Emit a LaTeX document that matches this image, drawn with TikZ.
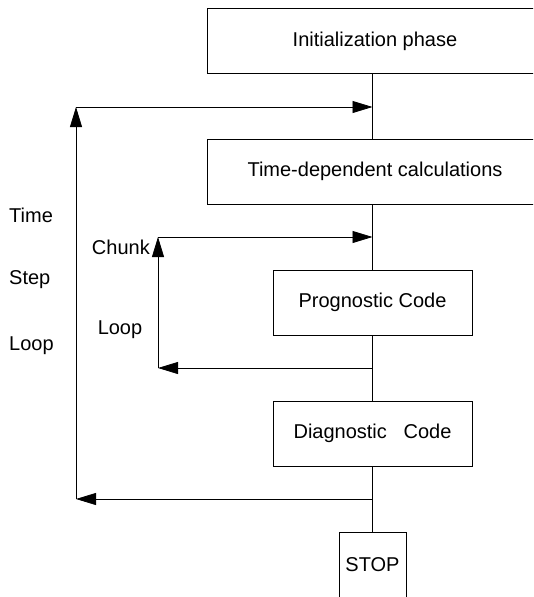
\documentclass[tikz,border=0pt]{standalone}
\usepackage{fontspec}
\setmainfont{Liberation Sans}
\usetikzlibrary{arrows.meta}
\tikzset{
  phase/.style={draw, line width=0.8pt, minimum height=65pt, inner sep=0pt},
  flow/.style={line width=0.8pt},
  loopto/.style={line width=0.8pt, -{Triangle[length=20pt,width=12pt]}},
  lbl/.style={inner sep=0pt}
}
\begin{document}
\begin{tikzpicture}[x=1pt,y=-1pt,font=\fontsize{20}{24}\selectfont]
      \clip (0,0) rectangle (533,597);
      \coordinate (spine) at (372.5,0);
      \node[phase, minimum width=336pt] (init) at (375,41) {Initialization phase};
      \node[phase, minimum width=336pt] (tdc) at (375,171.5) {Time-dependent calculations};
      \node[phase, minimum width=199pt] (prog) at (372.5,302.5) {Prognostic Code};
      \node[phase, minimum width=199pt] (diag) at (372.5,433.5) {Diagnostic~~~Code};
      \node[phase, minimum width=67pt, minimum height=66pt] (stop) at (372.5,565) {STOP};
      % main line
      \draw [flow] (init.south -| spine) -- (tdc.north -| spine);
      \draw [flow] (tdc.south -| spine) -- (prog);
      \draw [flow] (prog) -- (diag);
      \draw [flow] (diag) -- (stop);
      % time step loop
      \coordinate (tin) at (372.5,107);
      \coordinate (tl) at (76,107);
      \coordinate (tb) at (76,499);
      \coordinate (tout) at (372.5,499);
      \draw [loopto] (tout) -- (tb);
      \draw [loopto] (tb) -- (tl);
      \draw [loopto] (tl) -- (tin);
      % chunk loop
      \coordinate (cin) at (372.5,237);
      \coordinate (cl) at (158,237);
      \coordinate (cb) at (158,368);
      \coordinate (cout) at (372.5,368);
      \draw [loopto] (cout) -- (cb);
      \draw [loopto] (cb) -- (cl);
      \draw [loopto] (cl) -- (cin);
      % labels
      \node[lbl, anchor=west] (time) at (9,215) {Time};
      \node[lbl, anchor=west] (step) at (9,280) {Step};
      \node[lbl, anchor=west] (tloop) at (9,346) {Loop};
      \node[lbl, anchor=east] (chunk) at (150,247) {Chunk};
      \node[lbl] (cloop) at (120,330) {Loop};
    \end{tikzpicture}
\end{document}
